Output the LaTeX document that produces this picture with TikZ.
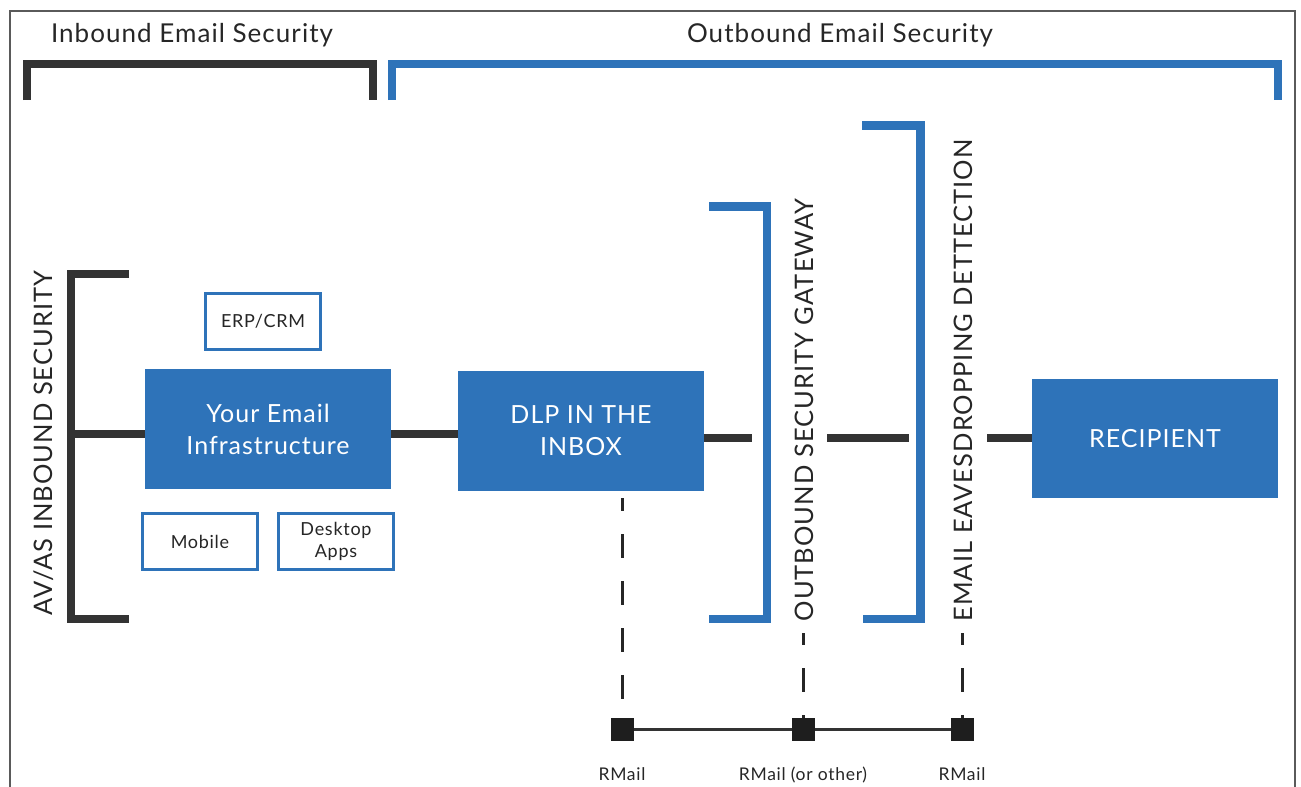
\documentclass[tikz,border=0pt]{standalone}
\usepackage{fontspec}
\setmainfont{Lato}[LetterSpace=4]
\definecolor{eblue}{HTML}{2E73B9}
\definecolor{edark}{HTML}{333333}
\definecolor{etext}{HTML}{262626}
\definecolor{eframe}{HTML}{5A5A5A}
\definecolor{esq}{HTML}{1E1E1E}
\tikzset{
  bluebox/.style={fill=eblue, text=white, inner sep=0pt, minimum width=246pt, minimum height=120pt, align=center, font=\fontsize{25}{32}\selectfont},
  smallbox/.style={draw=eblue, line width=3pt, fill=white, text=etext, inner sep=0pt, minimum width=115pt, minimum height=56pt, align=center, font=\fontsize{18}{22}\selectfont},
  blackbracket/.style={draw=edark, line width=8pt},
  bluebracket/.style={draw=eblue, line width=8.5pt},
  conn/.style={draw=edark, line width=8pt},
  dashconn/.style={draw=etext, line width=3pt, dash pattern=on 24pt off 23pt},
  sqnode/.style={fill=esq, inner sep=0pt, minimum size=23pt},
  vlabel/.style={rotate=90, anchor=base, text=etext, inner sep=0pt, font=\fontsize{25.5}{30}\selectfont},
  header/.style={anchor=base, text=etext, inner sep=0pt, font=\fontsize{26}{30}\selectfont},
  rlabel/.style={anchor=base, text=etext, inner sep=0pt, font=\fontsize{17.5}{20}\selectfont}
}
\begin{document}
\begin{tikzpicture}[x=1pt,y=-1pt]
\useasboundingbox (0,0) rectangle (1301,787);
\clip (0,0) rectangle (1301,787);
% frame
\draw[eframe, line width=2.5pt] (10,820) -- (10,11) -- (1295,11) -- (1295,820);
% headers
\node[header] (hin) at (192,42) {Inbound Email Security};
\node[header] (hout) at (840,42) {Outbound Email Security};
\draw[blackbracket] (27,100) -- (27,64) -- (373,64) -- (373,100);
\draw[bluebracket] (392,100) -- (392,64) -- (1278,64) -- (1278,100);
% left bracket
\draw[blackbracket] (129,274) -- (71,274) -- (71,619) -- (129,619);
\node[vlabel] (avas) at (52,443) {AV/AS INBOUND SECURITY};
\coordinate (lbmid) at (71,434);
% boxes
\node[smallbox] (erp) at (263,321.5) {ERP/CRM};
\node[bluebox] (infra) at (268,429) {Your Email\\Infrastructure};
\node[smallbox] (mobile) at (200,541.5) {Mobile};
\node[smallbox] (desk) at (336,541.5) {Desktop\\Apps};
\node[bluebox] (dlp) at (581,431) {DLP IN THE\\INBOX};
\node[bluebox, minimum height=119pt] (recip) at (1155,438.5) {RECIPIENT};
% gateway bracket
\draw[bluebracket] (709,206.3) -- (767,206.3) -- (767,619) -- (709,619);
\node[vlabel] (gw) at (813,410) {OUTBOUND SECURITY GATEWAY};
% eavesdrop bracket
\draw[bluebracket] (862,125.5) -- (920.5,125.5) -- (920.5,619) -- (863,619);
\node[vlabel] (eav) at (972,380.5) {EMAIL EAVESDROPPING DETTECTION};
% connectors
\draw[conn] (lbmid) -- (lbmid -| infra.west);
\draw[conn] ([yshift=-5pt]infra.east) -- ([yshift=-5pt]infra.east -| dlp.west);
\coordinate (gwin) at (752,437.5);
\draw[conn] (dlp.east |- gwin) -- (gwin);
\coordinate (midA) at (827,437.5);
\coordinate (midB) at (909,437.5);
\draw[conn] (midA) -- (midB);
\coordinate (eavout) at (987,438);
\draw[conn] (eavout) -- (eavout -| recip.west);
% RMail squares
\node[sqnode] (sq1) at (622.5,729.5) {};
\node[sqnode] (sq2) at (803.5,729.5) {};
\node[sqnode] (sq3) at (962.5,729.5) {};
\draw[edark, line width=2.5pt] (sq1) -- (sq2) -- (sq3);
\coordinate (d1) at (622.5,498);
\coordinate (d2) at (803.5,633);
\coordinate (d3) at (962.5,633);
\draw[dashconn, dash phase=11pt] (d1) -- (sq1.north);
\draw[dashconn, dash phase=12pt] (d2) -- (sq2.north);
\draw[dashconn, dash phase=12pt] (d3) -- (sq3.north);
\node[rlabel] (r1) at (622,780) {RMail};
\node[rlabel] (r2) at (803,780) {RMail (or other)};
\node[rlabel] (r3) at (962,780) {RMail};
\end{tikzpicture}
\end{document}
